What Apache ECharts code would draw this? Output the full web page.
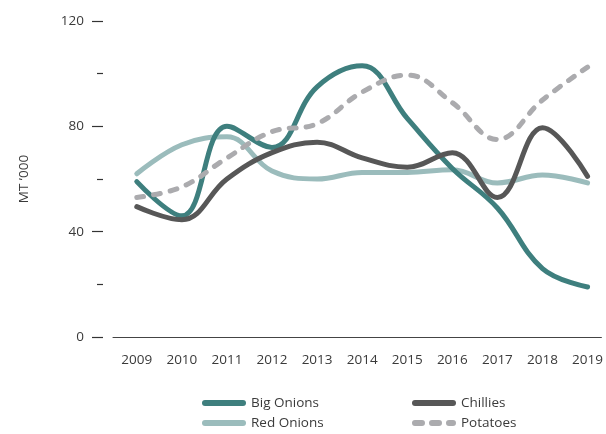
<!DOCTYPE html>
<html>
<head>
<meta charset="utf-8">
<script src="https://cdn.jsdelivr.net/npm/echarts@6/dist/echarts.min.js"></script>
<style>
  html, body { margin: 0; padding: 0; background: #fff; }
  #chart { width: 606px; height: 434px; }
</style>
</head>
<body>
<div id="chart"></div>
<script>
// years on the x axis
const years = [2009, 2010, 2011, 2012, 2013, 2014, 2015, 2016, 2017, 2018, 2019]
// MT '000
const bigOnions = [59, 46, 80, 72, 95, 103, 83, 64, 49, 26, 19]
const chillies = [49.5, 44.5, 60, 70, 74, 68, 64.5, 70, 53, 79.5, 61]
const redOnions = [62, 73, 76, 63, 60, 62.5, 62.5, 63.5, 58.5, 61.5, 58.5]
const potatoes = [53, 57, 68, 78, 81, 93, 99.5, 89, 75, 90, 102.5]
const yTicks = [0, 40, 80, 120]

const textColor = '#3a3a3a'
const font = 'Open Sans'
const fontSize = 13.5

const pairs = (vals) => years.map((y, i) => [y, vals[i]])

const mkSeries = (name, vals, color, dashed) => ({
  name: name,
  type: 'line',
  data: pairs(vals),
  smooth: 0.4,
  symbol: 'none',
  lineStyle: {
    color: color,
    width: 5,
    cap: 'round',
    type: dashed ? [7, 10] : 'solid',
  },
  itemStyle: { color: color },
})

// one legend per item, laid out in two columns
const mkLegend = (name, left, top) => ({
  data: [name],
  left: left,
  top: top,
  padding: 0,
  itemWidth: 38,
  itemHeight: 6,
  itemStyle: { opacity: 0 },
  lineStyle: { width: 6, cap: 'round' },
  textStyle: { fontFamily: font, fontSize: fontSize, color: textColor, lineHeight: 18, padding: [0, 0, 0, 3] },
})

const chart = echarts.init(document.getElementById('chart'))
chart.setOption({
  animation: false,
  grid: { left: 113, right: 0, top: 21, bottom: 97 },
  legend: [
    mkLegend('Big Onions', 202, 394),
    mkLegend('Chillies', 412, 394),
    mkLegend('Red Onions', 202, 414),
    mkLegend('Potatoes', 412, 414),
  ],
  xAxis: {
    type: 'value',
    min: 2008.4725,
    max: 2019.3077,
    splitLine: { show: false },
    axisTick: { show: false },
    axisLine: { show: true, lineStyle: { color: '#444', width: 1 } },
    axisLabel: {
      customValues: years,
      formatter: (v) => String(v),
      margin: 16,
      fontFamily: font,
      fontSize: fontSize,
      color: textColor,
    },
  },
  yAxis: {
    type: 'value',
    min: yTicks[0],
    max: yTicks[yTicks.length - 1],
    interval: 40,
    offset: 10,
    name: 'MT \u2019000',
    nameLocation: 'middle',
    nameRotate: 90,
    nameGap: 72,
    nameTextStyle: { fontFamily: font, fontSize: fontSize, color: textColor },
    splitLine: { show: false },
    axisLine: { show: false },
    axisTick: { show: true, length: 11, lineStyle: { color: '#333', width: 1.2 } },
    minorTick: { show: true, splitNumber: 2, length: 6, lineStyle: { color: '#333', width: 1.2 } },
    axisLabel: { margin: 19, fontFamily: font, fontSize: fontSize, color: textColor },
  },
  series: [
    mkSeries('Red Onions', redOnions, '#9bbcbc', false),
    mkSeries('Big Onions', bigOnions, '#3e7f7e', false),
    mkSeries('Chillies', chillies, '#575757', false),
    mkSeries('Potatoes', potatoes, '#ababae', true),
  ],
})
</script>
</body>
</html>
